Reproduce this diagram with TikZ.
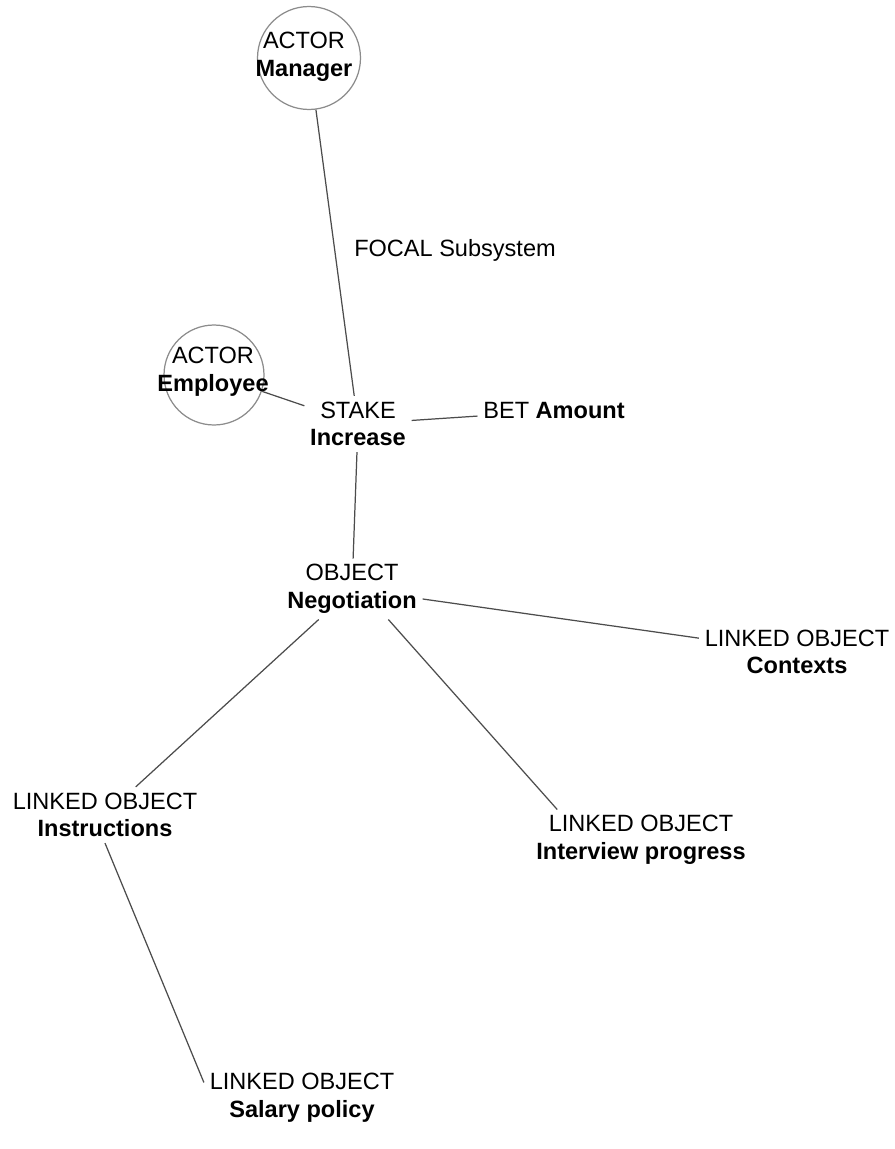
\documentclass[tikz,border=0pt]{standalone}
\usepackage{fontspec}
\setmainfont{Liberation Sans}
\begin{document}
\begin{tikzpicture}[x=0.02cm,y=-0.02cm,line width=0.7pt]
\newcommand{\csize}{2.06cm}
\useasboundingbox[fill=white] (0,0) rectangle (894,1149);
\begin{scope}[align=center,font=\fontsize{13.4}{15.8}\selectfont,inner sep=3pt]
\tikzstyle{every node}=[text=black]
\node[draw=gray!90,circle,minimum size=\csize] (Manager) at (309,58) {};
\node (ManagerText) at (304,57) {ACTOR\\\textbf{Manager}};
\node[draw=gray!90,circle,minimum size=2cm] (Employee) at (214,375) {};
\node (EmployeeText) at (213,372) {ACTOR\\\textbf{Employee}};
\node (Focal) at (455,250) {FOCAL Subsystem};
\node (Stake) at (358,424) {STAKE\\\textbf{Increase}};
\node (Bet) at (554,411) {BET \textbf{Amount}};
\node (Object) at (352,589) {OBJECT\\\textbf{Negotiation}};
\node (Contexts) at (797,652) {LINKED OBJECT\\\textbf{Contexts}};
\node (Instructions) at (105,815) {LINKED OBJECT\\\textbf{Instructions}};
\node (Interview) at (641,840) {LINKED OBJECT\\\textbf{Interview progress}};
\node (Salary) at (302,1098) {LINKED OBJECT\\\textbf{Salary policy}};
\end{scope}
\begin{scope}[draw=gray!60!black]
\draw (Manager) -- (Stake);
\draw (Employee) -- (Stake);
\draw (Stake) -- (Bet);
\draw (Stake) -- (Object);
\draw (Object) -- (Contexts);
\draw (Object) -- (Instructions);
\draw (Object.-40) -- (Interview.160);
\draw (Instructions.south) -- (Salary.171);
\end{scope}
\end{tikzpicture}
\end{document}
